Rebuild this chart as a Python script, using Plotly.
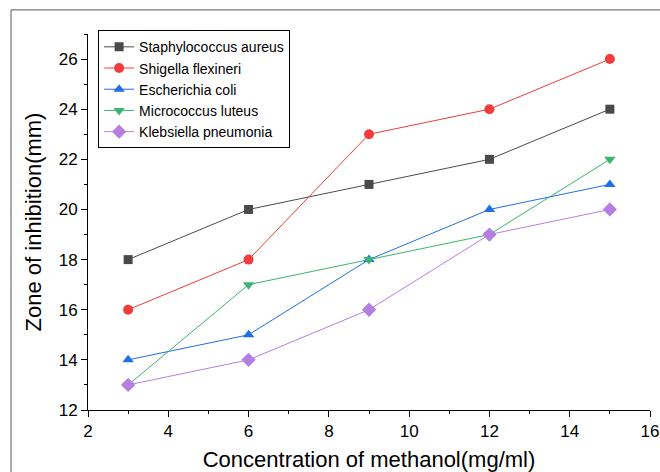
import plotly.graph_objects as go

x_conc = [3, 6, 9, 12, 15]
staph = [18, 20, 21, 22, 24]
shigella = [16, 18, 23, 24, 26]
ecoli = [14, 15, 18, 20, 21]
micro = [13, 17, 18, 19, 22]
kleb = [13, 14, 16, 19, 20]

series = [
    ("Staphylococcus aureus", staph, "#4a4a4a", "square", 9),
    ("Shigella flexineri", shigella, "#f03c3c", "circle", 10),
    ("Escherichia coli", ecoli, "#1f6fe6", "triangle-up", 10),
    ("Micrococcus luteus", micro, "#3cb371", "triangle-down", 10),
    ("Klebsiella pneumonia", kleb, "#b57fe0", "diamond", 11),
]

fig = go.Figure()
for name, vals, col, sym, sz in series:
    fig.add_trace(go.Scatter(
        x=x_conc, y=vals, name=name, mode="lines+markers",
        line=dict(color=col, width=1),
        marker=dict(color=col, symbol=sym, size=sz),
    ))

axis_common = dict(
    showgrid=False, zeroline=False, showline=True, linecolor="black", linewidth=1,
    ticks="outside", ticklen=6, tickwidth=1, tickcolor="black",
    tickfont=dict(family="Liberation Sans, Arial", size=17, color="black"),
    minor=dict(ticks="outside", ticklen=3, tickcolor="black", dtick=1),
    automargin=False,
)

fig.update_layout(
    width=660, height=472,
    margin=dict(l=88, r=10, t=34, b=62),
    paper_bgcolor="white", plot_bgcolor="white",
    font=dict(family="Liberation Sans, Arial", color="black"),
    xaxis=dict(range=[2, 16], dtick=2, tick0=2,
               title=dict(text="Concentration of methanol(mg/ml)", font=dict(size=22), standoff=14),
               **axis_common),
    yaxis=dict(range=[12, 27], dtick=2, tick0=12,
               title=dict(text="Zone of inhibition(mm)", font=dict(size=22), standoff=10),
               **axis_common),
    legend=dict(x=0.018, y=1.01, xanchor="left", yanchor="top",
                bordercolor="black", borderwidth=1, bgcolor="white",
                font=dict(size=14), tracegroupgap=0, itemwidth=30),
    showlegend=True,
)

fig.add_shape(type="rect", xref="paper", yref="paper",
              x0=-0.137, y0=-0.3, x1=1.2, y1=1.064,
              line=dict(color="#555555", width=1), layer="below")

fig.write_html("out.html", config={"displayModeBar": False},
               post_script="document.body.style.margin='0';")
